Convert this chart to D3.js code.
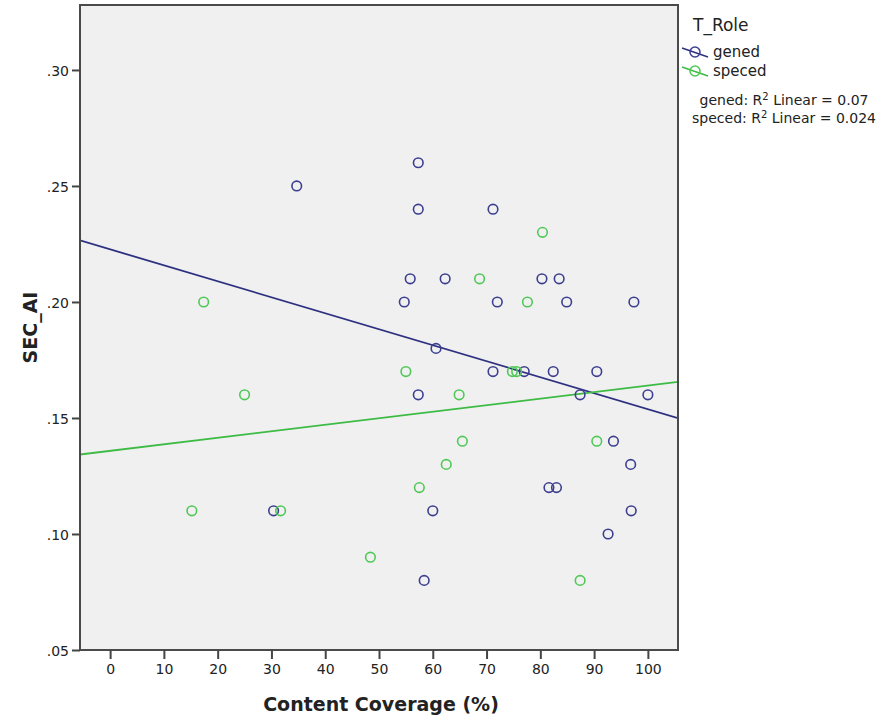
<!DOCTYPE html>
<html>
<head>
<meta charset="utf-8">
<script src="https://cdn.jsdelivr.net/npm/d3@7"></script>
<style>
  html, body { margin: 0; padding: 0; background: #ffffff; }
  svg { display: block; }
  text { font-family: "DejaVu Sans", Verdana, sans-serif; fill: #222; }
</style>
</head>
<body>
<svg id="chart" width="885" height="723"></svg>
<script>
// Content Coverage (%) and SEC_AI for each teacher, split by T_Role
const genedX = [57.3, 34.7, 57.3, 71.2, 55.8, 62.3, 80.3, 83.5, 54.7, 72.0, 84.9, 97.4, 60.6, 71.2, 77.0,
                82.4, 90.5, 57.3, 87.4, 100.0, 93.6, 96.8, 81.6, 83.0, 30.4, 60.0, 96.9, 92.6, 58.4];
const genedY = [0.26, 0.25, 0.24, 0.24, 0.21, 0.21, 0.21, 0.21, 0.20, 0.20, 0.20, 0.20, 0.18, 0.17, 0.17,
                0.17, 0.17, 0.16, 0.16, 0.16, 0.14, 0.13, 0.12, 0.12, 0.11, 0.11, 0.11, 0.10, 0.08];
const specedX = [80.4, 68.7, 77.6, 17.4, 55.0, 74.8, 75.6, 25.0, 64.9, 65.5, 90.5, 62.5, 57.5, 15.2, 31.7, 48.4, 87.4];
const specedY = [0.23, 0.21, 0.20, 0.20, 0.17, 0.17, 0.17, 0.16, 0.16, 0.14, 0.14, 0.13, 0.12, 0.11, 0.11, 0.09, 0.08];

const roles = ["gened", "speced"];
const rSquared = ["0.07", "0.024"];
const xTicks = [0, 10, 20, 30, 40, 50, 60, 70, 80, 90, 100];
const yTicks = [0.05, 0.10, 0.15, 0.20, 0.25, 0.30];

const pointColors = { gened: "#3c3f8f", speced: "#4fc857" };
const lineColors = { gened: "#2e3180", speced: "#3dbb45" };

const svg = d3.select("#chart");
const plot = { left: 80, right: 678, top: 5, bottom: 650 };

const x = d3.scaleLinear().domain([-5.6, 105.6]).range([plot.left, plot.right]);
const y = d3.scaleLinear().domain([0.05, 0.328]).range([plot.bottom, plot.top]);

const groups = [
  { role: "gened", pts: genedX.map((v, i) => [v, genedY[i]]) },
  { role: "speced", pts: specedX.map((v, i) => [v, specedY[i]]) }
];

// ordinary least squares fit for each role
function fit(pts) {
  const mx = d3.mean(pts, d => d[0]), my = d3.mean(pts, d => d[1]);
  let sxy = 0, sxx = 0;
  pts.forEach(([a, b]) => { sxy += (a - mx) * (b - my); sxx += (a - mx) * (a - mx); });
  const slope = sxy / sxx;
  return { slope, intercept: my - slope * mx };
}

// plot background
svg.append("rect")
  .attr("x", plot.left).attr("y", plot.top)
  .attr("width", plot.right - plot.left).attr("height", plot.bottom - plot.top)
  .attr("fill", "#f0f0f0");

svg.append("clipPath").attr("id", "clip")
  .append("rect")
  .attr("x", plot.left).attr("y", plot.top)
  .attr("width", plot.right - plot.left).attr("height", plot.bottom - plot.top);

// fit lines
const fitLayer = svg.append("g").attr("clip-path", "url(#clip)");
groups.forEach(g => {
  const f = fit(g.pts);
  const [x0, x1] = x.domain();
  fitLayer.append("line")
    .attr("x1", x(x0)).attr("y1", y(f.intercept + f.slope * x0))
    .attr("x2", x(x1)).attr("y2", y(f.intercept + f.slope * x1))
    .attr("stroke", lineColors[g.role])
    .attr("stroke-width", 1.8);
});

// markers
const markLayer = svg.append("g").attr("clip-path", "url(#clip)");
groups.forEach(g => {
  markLayer.selectAll(null)
    .data(g.pts)
    .enter().append("circle")
    .attr("cx", d => x(d[0]))
    .attr("cy", d => y(d[1]))
    .attr("r", 4.8)
    .attr("fill", "none")
    .attr("stroke", pointColors[g.role])
    .attr("stroke-width", 1.6);
});

// frame
svg.append("rect")
  .attr("x", plot.left).attr("y", plot.top)
  .attr("width", plot.right - plot.left).attr("height", plot.bottom - plot.top)
  .attr("fill", "none")
  .attr("stroke", "#4a4a4a")
  .attr("stroke-width", 2);

// axes
const xAxis = svg.append("g")
  .attr("transform", `translate(0,${plot.bottom})`)
  .call(d3.axisBottom(x).tickValues(xTicks).tickSize(9).tickPadding(5).tickFormat(d3.format("d")));
const yAxis = svg.append("g")
  .attr("transform", `translate(${plot.left},0)`)
  .call(d3.axisLeft(y).tickValues(yTicks).tickSize(8).tickPadding(3)
    .tickFormat(d => d3.format(".2f")(d).replace(/^0/, "")));

[xAxis, yAxis].forEach(a => {
  a.select(".domain").remove();
  a.selectAll(".tick line").attr("stroke", "#444").attr("stroke-width", 2);
  a.selectAll(".tick text")
    .attr("fill", "#333")
    .style("font-family", "'DejaVu Sans', sans-serif")
    .style("font-size", "14px");
});
yAxis.selectAll(".tick text").attr("dy", "0.36em");

// axis titles
svg.append("text")
  .attr("x", 381)
  .attr("y", 711)
  .attr("text-anchor", "middle")
  .style("font-size", "19px")
  .style("font-weight", "bold")
  .text("Content Coverage (%)");

svg.append("text")
  .attr("transform", `translate(37,${(plot.top + plot.bottom) / 2}) rotate(-90)`)
  .attr("text-anchor", "middle")
  .style("font-size", "19px")
  .style("font-weight", "bold")
  .text("SEC_AI");

// legend
const legend = svg.append("g");
legend.append("text")
  .attr("x", 693).attr("y", 31)
  .style("font-size", "17px")
  .text("T_Role");

roles.forEach((role, i) => {
  const cy = 52 + i * 19;
  legend.append("line")
    .attr("x1", 682).attr("y1", cy - 4)
    .attr("x2", 708).attr("y2", cy + 5)
    .attr("stroke", lineColors[role]).attr("stroke-width", 1.4);
  legend.append("circle")
    .attr("cx", 695).attr("cy", cy).attr("r", 5)
    .attr("fill", "none")
    .attr("stroke", pointColors[role]).attr("stroke-width", 1.5);
  legend.append("text")
    .attr("x", 713).attr("y", cy + 5)
    .style("font-size", "15px")
    .text(role);
});

roles.forEach((role, i) => {
  const t = legend.append("text")
    .attr("x", 784).attr("y", 105 + i * 18)
    .attr("text-anchor", "middle")
    .style("font-size", "14px");
  t.append("tspan").text(`${role}: R`);
  t.append("tspan").attr("dy", -5).style("font-size", "10px").text("2");
  t.append("tspan").attr("dy", 5).text(` Linear = ${rSquared[i]}`);
});
</script>
</body>
</html>
